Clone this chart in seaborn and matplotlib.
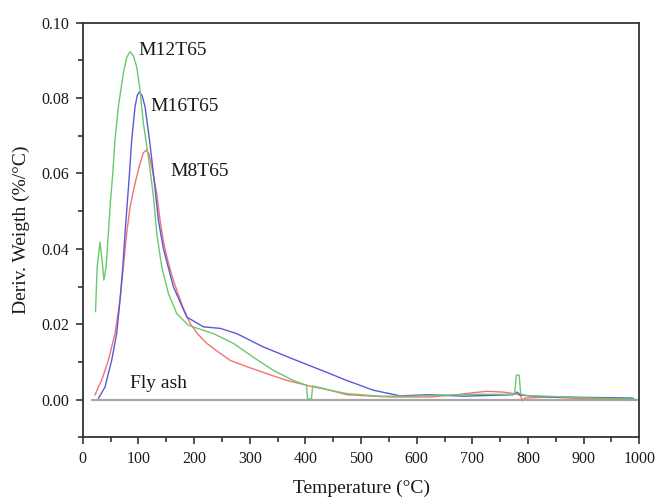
"""
DTG curves of geopolymer samples (M8T65 / M12T65 / M16T65) and fly ash
"""
import matplotlib
matplotlib.use("Agg")
import matplotlib.pyplot as plt
from matplotlib.ticker import MultipleLocator
import seaborn as sns

# ---- data ----
temp_m12 = [23, 26, 31, 36, 38, 42, 46, 50, 54, 58, 64, 73, 79, 85, 91, 97, 103, 109,
            118, 127, 133, 142, 154, 169, 190, 235, 271, 306, 342, 378, 402, 404,
            411, 413, 426, 444, 474, 534, 594, 624, 714, 776, 779, 784, 787, 800,
            834, 900, 995]
dtg_m12 = [0.0233, 0.0352, 0.0418, 0.0352, 0.0317, 0.0352, 0.0441, 0.0529, 0.060,
           0.0689, 0.0777, 0.0866, 0.0908, 0.0923, 0.0912, 0.0883, 0.0821, 0.0733,
           0.0644, 0.0540, 0.0441, 0.0352, 0.0281, 0.0228, 0.0197, 0.0175, 0.0149,
           0.0113, 0.0078, 0.0051, 0.0038, 0.0002,
           0.0002, 0.0036, 0.0032, 0.0025, 0.0016, 0.0009, 0.0009, 0.0011, 0.0014,
           0.0014, 0.0065, 0.0065, 0.0014, 0.0010,
           0.0009, 0.0005, 0.0]

temp_m16 = [28, 40, 52, 61, 67, 72, 76, 79, 84, 88, 94, 98, 102, 107, 112, 120, 127,
            136, 145, 163, 187, 217, 247, 277, 324, 384, 444, 474, 522, 570, 624,
            684, 774, 781, 786, 834, 900, 989]
dtg_m16 = [0.0003, 0.0033, 0.0104, 0.0175, 0.0264, 0.0352, 0.0441, 0.050, 0.060,
           0.0689, 0.0777, 0.0807, 0.0817, 0.0805, 0.0777, 0.0689, 0.060,
           0.0476, 0.0400, 0.0299, 0.0219, 0.0193, 0.0189, 0.0175, 0.014, 0.0104,
           0.0069, 0.0051, 0.0025, 0.001, 0.0013,
           0.0009, 0.0013, 0.002, 0.0012, 0.0007, 0.0006, 0.0004]

temp_m8 = [22, 28, 34, 46, 58, 67, 73, 79, 85, 94, 103, 109, 114, 119, 124, 133, 139,
           145, 151, 160, 169, 180, 193, 208, 223, 245, 265,
           290, 313, 340, 367, 408, 444, 474, 510, 552, 624, 672, 700, 726, 755,
           774, 786, 790, 794, 834, 893, 995]
dtg_m8 = [0.0012, 0.0033, 0.0051, 0.0104, 0.0175, 0.0264, 0.0352, 0.0441, 0.0510,
          0.0574, 0.0627, 0.0655, 0.0662, 0.0652, 0.0618, 0.0547, 0.0476,
          0.0420, 0.0380, 0.0330, 0.029, 0.0245, 0.0202, 0.0172, 0.0149, 0.0125,
          0.0104, 0.009, 0.0078, 0.0064, 0.0051, 0.0036, 0.0025, 0.0013, 0.001,
          0.0007, 0.0007, 0.0013, 0.0018, 0.0022, 0.002,
          0.0016, 0.0012, -0.0003, 0.0004, 0.0007, 0.0003, 0.0]

temp_ash = [17, 995]
dtg_ash = [0.0, 0.0]

# label name, anchor (temperature, dtg)
labels = ["M12T65", "M16T65", "M8T65", "Fly ash"]
label_t = [100, 122, 157, 85]
label_d = [0.0927, 0.0779, 0.0604, 0.0044]

sns.set_theme(style="ticks")
plt.rcParams['font.family'] = ['Liberation Serif', 'DejaVu Serif']

fig = plt.figure(figsize=(6.57, 4.98), dpi=100)
ax = fig.add_axes([0.1259, 0.1219, 0.8472, 0.8325])

sns.lineplot(x=temp_ash, y=dtg_ash, color="#a8a8a8", linewidth=1.6, ax=ax,
             estimator=None, sort=False)
sns.lineplot(x=temp_m8, y=dtg_m8, color="#f27272", linewidth=1.0, ax=ax,
             estimator=None, sort=False)
sns.lineplot(x=temp_m16, y=dtg_m16, color="#5a5ad6", linewidth=1.0, ax=ax,
             estimator=None, sort=False)
sns.lineplot(x=temp_m12, y=dtg_m12, color="#6cc86c", linewidth=1.0, ax=ax,
             estimator=None, sort=False)

for name, t, d in zip(labels, label_t, label_d):
    ax.text(t, d, name, fontsize=14, ha="left", va="center", color="#1a1a1a")

ax.set_xlim(0, 1000)
ax.set_ylim(-0.01, 0.10)
ax.xaxis.set_major_locator(MultipleLocator(100))
ax.xaxis.set_minor_locator(MultipleLocator(50))
ax.yaxis.set_minor_locator(MultipleLocator(0.01))
ax.set_yticks([0.0, 0.02, 0.04, 0.06, 0.08, 0.10])
ax.set_yticklabels(["0.00", "0.02", "0.04", "0.06", "0.08", "0.10"])

ax.tick_params(which="major", direction="out", length=5, width=1.2, pad=5,
               color="#333333", labelsize=11.5, labelcolor="#1a1a1a")
ax.tick_params(which="minor", direction="out", length=3.5, width=1.2,
               color="#333333")
for side in ["left", "right", "top", "bottom"]:
    ax.spines[side].set_color("#333333")
    ax.spines[side].set_linewidth(1.3)

ax.set_xlabel("Temperature (°C)", fontsize=14, color="#1a1a1a", labelpad=9)
ax.set_ylabel("Deriv. Weigth (%/°C)", fontsize=14, color="#1a1a1a", labelpad=8)

plt.savefig("out.png", dpi=100)
